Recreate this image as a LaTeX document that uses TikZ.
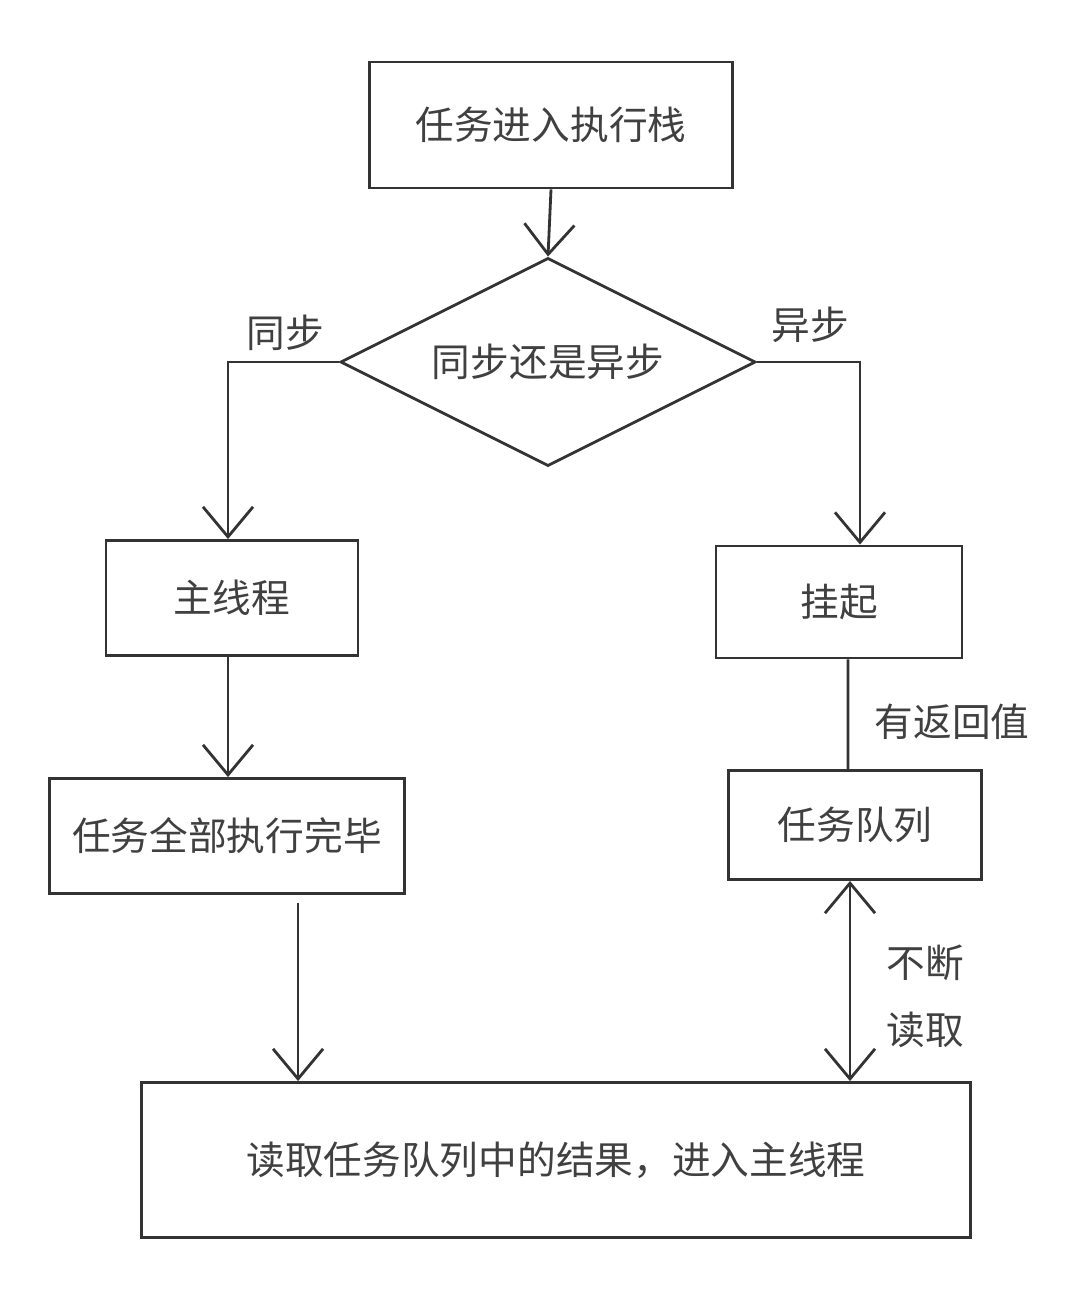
\documentclass[tikz,border=0pt]{standalone}
\usepackage{fontspec}
\newfontfamily\cjk{Noto Sans CJK SC}
\usetikzlibrary{arrows.meta,shapes.geometric}
\tikzset{box/.style={draw,rectangle,inner sep=0pt},
  lab/.style={font=\cjk\fontsize{11}{13}\selectfont,text=black!75},
  >={Straight Barb[length=0.3cm,width=0.5cm]}}
\begin{document}
\begin{tikzpicture}[x=0.01cm,y=-0.01cm,line width=0.8pt,draw=black!80]
\useasboundingbox (0,0) rectangle (1080,1290);
\node[box,lab,minimum width=3.62cm,minimum height=1.26cm](top)at(551,125){任务进入执行栈};
\node[draw,diamond,shape aspect=2,lab,inner sep=0pt,minimum width=4.15cm,minimum height=2.08cm](dia)at(548,362){同步还是异步};
\node[box,lab,minimum width=2.52cm,minimum height=1.15cm](main)at(232,598){主线程};
\node[box,lab,minimum width=2.46cm,minimum height=1.12cm](hang)at(839,602){挂起};
\node[box,lab,minimum width=3.54cm,minimum height=1.15cm](all)at(227,836){任务全部执行完毕};
\node[box,lab,minimum width=2.53cm,minimum height=1.09cm](queue)at(855,825){任务队列};
\node[box,lab,minimum width=8.28cm,minimum height=1.55cm](res)at(556,1160){读取任务队列中的结果，进入主线程};
\node[lab](sync)at(285,333){同步};
\node[lab](async)at(810,325){异步};
\node[lab](ret)at(952,722){有返回值};
\node[lab](keep)at(925,963){不断};
\node[lab](read)at(925,1030){读取};
\draw[->](top.south)--(dia.north);
\draw[->](dia.west)-|([xshift=-0.04cm]main.north);
\draw[->](dia.east)-|([xshift=0.21cm]hang.north);
\draw[->]([xshift=-0.04cm]main.south)--([xshift=-0.04cm]main.south|-all.north);
\draw([xshift=0.09cm]hang.south)--([xshift=-0.07cm]queue.north);
\draw[<->]([xshift=-0.05cm]queue.south)--([xshift=-0.05cm]queue.south|-res.north);
\draw[->]([xshift=0.71cm,yshift=-0.08cm]all.south)--([xshift=0.71cm]all.south|-res.north);
\end{tikzpicture}
\end{document}
